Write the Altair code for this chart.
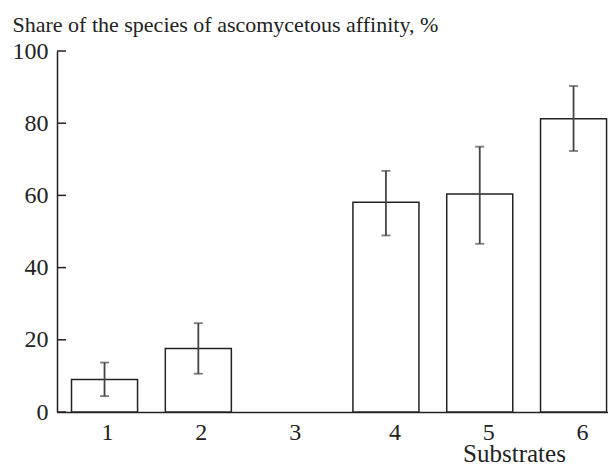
import altair as alt
import pandas as pd

substrates = ["1", "2", "3", "4", "5", "6"]
share = [9.0, 17.6, 0.0, 58.1, 60.4, 81.2]
err_low = [4.4, 10.6, 0.0, 48.9, 46.6, 72.3]
err_high = [13.7, 24.6, 0.0, 66.8, 73.5, 90.3]
y_ticks = [0, 20, 40, 60, 80, 100]

df = pd.DataFrame({"substrate": substrates, "share": share, "lo": err_low, "hi": err_high})
ticks_df = pd.DataFrame({"v": y_ticks})

font = "Liberation Serif"
ink = "#222222"

xscale = alt.Scale(domain=substrates, paddingInner=0.296, paddingOuter=0.085, align=0.91)
yscale = alt.Scale(domain=[0, 100], nice=False)

x_enc = alt.X(
    "substrate:N", scale=xscale, sort=substrates,
    axis=alt.Axis(
        labelAngle=0, ticks=False, domainColor=ink, domainWidth=1.5,
        labelFont=font, labelFontSize=24, labelColor=ink, labelPadding=8,
        labelOffset={"condition": {"test": "datum.value >= '4'", "value": 9}, "value": 3},
        title="Substrates", titleFont=font, titleFontSize=25, titleFontWeight="normal",
        titleColor=ink, titleX=457, titleY=49, titleAlign="center", titleBaseline="alphabetic",
    ),
)
y_axis = alt.Axis(
    values=y_ticks, ticks=False, grid=False, domainColor=ink, domainWidth=1.5,
    labelFont=font, labelFontSize=24, labelColor=ink, labelPadding=9,
    title="Share of the species of ascomycetous affinity, %",
    titleFont=font, titleFontSize=22, titleFontWeight="normal", titleColor=ink,
    titleAngle=0, titleX=-45, titleY=-19.5, titleAlign="left", titleBaseline="alphabetic",
)

base = alt.Chart(df).transform_filter("datum.share > 0")

bars = base.mark_bar(fill="white", stroke=ink, strokeWidth=1.5).encode(
    x=x_enc, y=alt.Y("share:Q", scale=yscale, axis=y_axis)
)
err = base.mark_rule(color="#444444", strokeWidth=1.8).encode(
    x=alt.X("substrate:N", scale=xscale, sort=substrates),
    y=alt.Y("lo:Q", scale=yscale), y2="hi:Q",
)
cap_hi = base.mark_tick(orient="horizontal", size=9, thickness=1.8, color="#444444").encode(
    x=alt.X("substrate:N", scale=xscale, sort=substrates),
    y=alt.Y("hi:Q", scale=yscale),
)
cap_lo = base.mark_tick(orient="horizontal", size=9, thickness=1.8, color="#444444").encode(
    x=alt.X("substrate:N", scale=xscale, sort=substrates),
    y=alt.Y("lo:Q", scale=yscale),
)
inner_ticks = alt.Chart(ticks_df).mark_rule(color=ink, strokeWidth=1.5).encode(
    y=alt.Y("v:Q", scale=yscale), x=alt.value(0), x2=alt.value(9)
)

chart = alt.layer(bars, err, cap_hi, cap_lo, inner_ticks).properties(
    width=551, height=361,
    autosize=alt.AutoSizeParams(type="none"),
    padding={"left": 49, "top": 43, "right": 0, "bottom": 52},
    background="white",
).configure_view(stroke=None)

chart.save("out.html", embed_options={"renderer": "svg", "actions": False})
